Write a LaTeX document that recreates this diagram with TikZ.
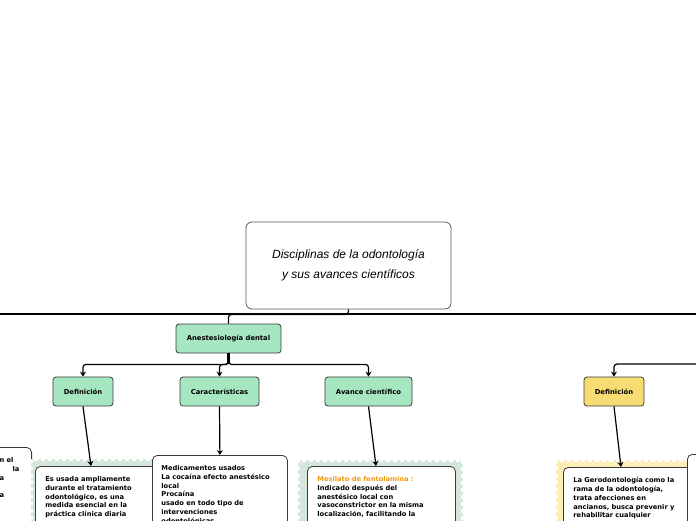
\documentclass[tikz,border=0pt]{standalone}
\usepackage{fontspec}
\setmainfont{DejaVu Sans}
\newfontfamily\headfont{Liberation Sans}
\usetikzlibrary{positioning,arrows.meta}

\definecolor{mintfill}{HTML}{A6E6C1}
\definecolor{sunfill}{HTML}{F7DC74}
\definecolor{mintband}{HTML}{D5E7DB}
\definecolor{sunband}{HTML}{FCEEB8}
\definecolor{edgegray}{HTML}{3A3A3A}
\definecolor{tagorange}{HTML}{F39C12}

\begin{document}
\begin{tikzpicture}[x=1pt, y=-1pt,
  headbox/.style={draw=gray!70!black, line width=0.8pt, rounded corners=6pt, fill=white, minimum width=205pt, minimum height=87pt, align=center, font=\headfont\itshape\fontsize{12}{20}\selectfont},
  topic/.style={draw=edgegray, line width=0.8pt, rounded corners=3pt, fill=mintfill, minimum height=29pt, font=\fontsize{6.8}{8}\selectfont\bfseries},
  topicsun/.style={topic, fill=sunfill},
  card/.style={draw=edgegray, line width=0.8pt, fill=white, rounded corners=5pt, anchor=north west, align=left, inner sep=10pt, text depth=60pt, font=\fontsize{6.7}{8.8}\selectfont\bfseries},
  notch/.style={white, line width=4pt, dash pattern=on 3.5pt off 3.5pt},
  link/.style={line width=1.2pt, rounded corners=3pt},
  arr/.style={link, -{Stealth[length=5pt, width=6pt]}}
]
\useasboundingbox (0,0) rectangle (696,520);
\clip (0,0) rectangle (696,520);

% title and green branch
\node[headbox] (head) at (348.5,265.5) {Disciplinas de la odontología\\y sus avances científicos};
\node[topic, minimum width=105pt] (anest) at (228.5,338.5) {Anestesiología dental};
\node[topic, minimum width=60pt] (defa) at (83,391.5) {Definición};
\node[topic, minimum width=79pt] (carac) at (219.5,391.5) {Características};
\node[topic, minimum width=87pt] (avance) at (368.5,391.5) {Avance científico};
\node[topicsun, minimum width=60pt] (defb) at (614,391.5) {Definición};

% cards with stamp bands
\node[card, anchor=north east, minimum width=100pt, text width=80pt] (cardl) at (32,447) {\leftskip=58pt n el\\\hspace*{13pt}la\\a\\[8.8pt]a\\r al};
\fill[mintband] (31,459) rectangle (172,540);
\draw[notch] (31,540) -- (31,459) -- (172,459);
\node[card, minimum width=140pt, text width=120pt] (carda) at (35,466) {Es usada ampliamente\\durante el tratamiento\\odontológico, es una\\medida esencial en la\\práctica clínica diaria};
\node[card, minimum width=135pt, text width=117pt, inner xsep=9pt] (cardc) at (152,455) {Medicamentos usados\\La cocaína efecto anestésico\\local\\Procaína\\usado en todo tipo de\\intervenciones\\odontológicas};
\fill[mintband] (298,460) rectangle (463,540);
\draw[notch] (298,540) -- (298,460) -- (463,460) -- (463,540);
\node[card, minimum width=148pt, text width=128pt] (cardv) at (307,466) {{\color{tagorange}Mesilato de fentolamina :}\\Indicado después del\\anestésico local con\\vasoconstrictor en la misma\\localización, facilitando la};
\fill[sunband] (556,460) rectangle (700,540);
\draw[notch] (556,540) -- (556,460) -- (700,460);
\node[card, minimum width=140pt, text width=120pt] (cardy) at (563,467) {La Gerodontología como la\\rama de la odontología,\\trata afecciones en\\ancianos, busca prevenir y\\rehabilitar cualquier};
\node[card, minimum width=80pt, minimum height=90pt] (cardr) at (687,454) {};

% connectors
\coordinate (spanw) at (-5,314);
\coordinate (spane) at (701,314);
\coordinate (feede) at (701,364);
\draw[link] (spanw) -- (spane);
\draw[link] (head.south) -- ++(0,5) -| (anest.north);
\draw[line width=2.4pt] (anest.south) -- ++(0,11);
\foreach \kid in {defa,carac,avance}
  \draw[arr] (anest.south) -- ++(0,11) -| (\kid.north);
\draw[arr] (feede) -| (defb.north);
\draw[arr] (defa.south) -- ([xshift=56pt]carda.north west);
\draw[arr] (carac.south) -- (cardc.north);
\draw[arr] (avance.south) -- ([xshift=69pt]cardv.north west);
\draw[arr] (defb.south) -- ([xshift=58pt]cardy.north west);
\end{tikzpicture}
\end{document}
